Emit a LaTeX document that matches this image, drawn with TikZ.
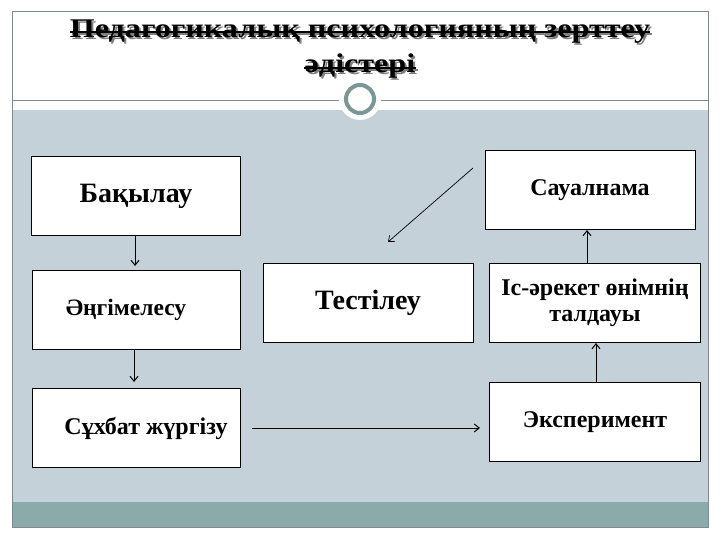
\documentclass[tikz,border=0pt]{standalone}
\usepackage{fontspec}
\setmainfont{Liberation Serif}
\usetikzlibrary{arrows.meta}

\definecolor{bandgray}{RGB}{197,209,216}
\definecolor{barteal}{RGB}{139,171,171}
\definecolor{framegray}{RGB}{127,140,140}
\definecolor{ringteal}{RGB}{122,150,150}

\tikzset{
  methodbox/.style={draw=black, fill=white, line width=1pt, inner sep=0pt, font=\bfseries},
  titletext/.style={anchor=base, inner sep=0pt, xscale=1.19, font=\bfseries\fontsize{27}{30}\selectfont},
  flow/.style={line width=1pt, -{Straight Barb[length=5pt,width=8pt]}}
}

\begin{document}
\begin{tikzpicture}[x=1pt,y=1pt,yscale=-1,xscale=1]
\useasboundingbox (0,0) rectangle (720,540);

%Shape: Rectangle (background of slide)
\fill [white] (0,0) rectangle (720,540);
\fill [bandgray] (12,110) rectangle (708,502);
\fill [barteal] (12,502) rectangle (708,527);
\draw [framegray, line width=1pt] (12,12) rectangle (708,527);
%Straight Lines
\draw [framegray, line width=0.8pt] (12,100) -- (708,100);
%Shape: Circle
\fill [white] (360,99) circle (21);
\draw [ringteal, line width=4pt] (360,99) circle (14);

% Text Node (title shadow)
\draw (362,39.5) node [titletext, gray] (shadowone) {Педагогикалық психологияның зерттеу};
\draw (362,75) node [titletext, gray] (shadowtwo) {әдістері};
\draw [gray, line width=2pt] ([yshift=-5pt]shadowone.base west) -- ([yshift=-5pt]shadowone.base east);
\draw [gray, line width=2pt] ([yshift=-5pt]shadowtwo.base west) -- ([yshift=-5pt]shadowtwo.base east);
% Text Node (title)
\draw (360,37.5) node [titletext] (titleone) {Педагогикалық психологияның зерттеу};
\draw (360,73) node [titletext] (titletwo) {әдістері};
\draw [line width=2pt] ([yshift=-5pt]titleone.base west) -- ([yshift=-5pt]titleone.base east);
\draw [line width=2pt] ([yshift=-5pt]titletwo.base west) -- ([yshift=-5pt]titletwo.base east);

%Shape: Rectangle
\node [methodbox, minimum width=209pt, minimum height=79pt, font=\bfseries\fontsize{28}{32}\selectfont] (bakylau) at (136,196) {Бақылау};
%Shape: Rectangle
\node [methodbox, minimum width=208pt, minimum height=79pt, font=\bfseries\fontsize{23.5}{28}\selectfont] (angime) at (136,310) {Әңгімелесу\hspace*{20pt}};
%Shape: Rectangle
\node [methodbox, minimum width=208pt, minimum height=79pt, font=\bfseries\fontsize{24}{28}\selectfont] (sukhbat) at (136,428) {\hspace*{20pt}Сұхбат жүргізу};
%Shape: Rectangle
\node [methodbox, minimum width=210pt, minimum height=79pt, font=\bfseries\fontsize{28}{32}\selectfont] (testileu) at (368,303) {Тестілеу};
%Shape: Rectangle
\node [methodbox, minimum width=210pt, minimum height=79pt, font=\bfseries\fontsize{24}{28}\selectfont] (saualnama) at (590,190) {Сауалнама};
%Shape: Rectangle
\node [methodbox, minimum width=211pt, minimum height=79pt, align=center, font=\bfseries\fontsize{24}{26}\selectfont] (isareket) at (595,303) {Іс-әрекет өнімнің\\ талдауы};
%Shape: Rectangle
\node [methodbox, minimum width=211pt, minimum height=79pt, font=\bfseries\fontsize{24}{28}\selectfont] (eksperiment) at (595,422) {Эксперимент};

%Straight Lines
\draw [flow, shorten >=4pt] (bakylau.south -| 135,0) -- (angime.north -| 135,0);
\draw [flow, shorten >=6pt] (angime.south -| 134,0) -- (sukhbat.north -| 134,0);
\draw [flow, shorten >=9pt] ([xshift=11pt]sukhbat.east |- 0,428) -- (eksperiment.west |- 0,428);
\draw [flow] (eksperiment.north -| 596,0) -- (isareket.south -| 596,0);
\draw [flow] (isareket.north -| 587,0) -- (saualnama.south -| 587,0);
%Straight Lines (diagonal)
\coordinate (diagstart) at (473,168);
\coordinate (diagend) at (388,242);
\draw [line width=0.7pt, -{Straight Barb[length=5pt,width=8pt]}] (diagstart) -- (diagend);

\end{tikzpicture}
\end{document}
